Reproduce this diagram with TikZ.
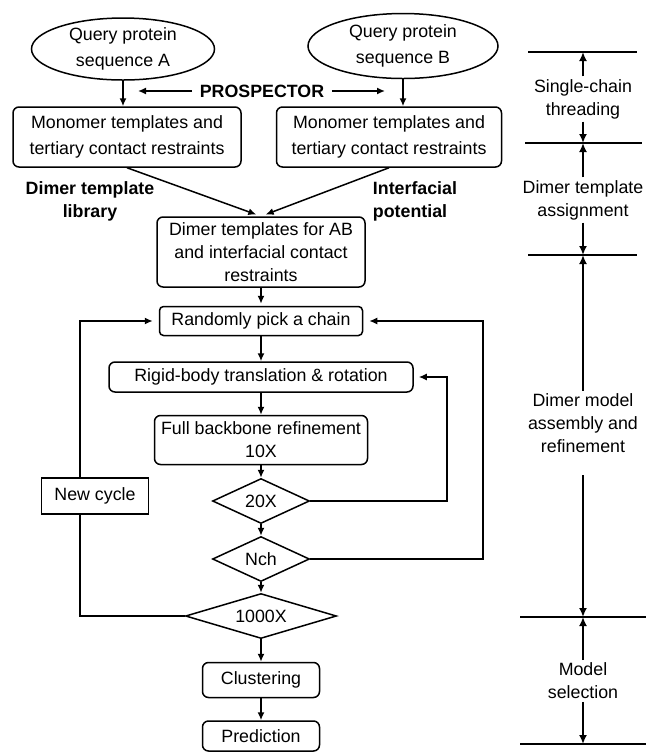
\documentclass[tikz,border=0pt]{standalone}
\usepackage{fontspec}
\setmainfont{Liberation Sans}
\usetikzlibrary{shapes.geometric,arrows.meta}
\newcommand{\txtfont}{\fontsize{8.9}{11.5}\selectfont}

\begin{document}
\begin{tikzpicture}[x=0.5pt,y=-0.5pt,
    font=\txtfont,
    line width=0.75pt,
    >={Latex[length=4pt,width=3.5pt]},
    query/.style={draw, ellipse, align=center, inner sep=0pt},
    stepbox/.style={draw, rounded corners=3pt, align=center, inner sep=1pt},
    choice/.style={draw, diamond, aspect=2.2, inner sep=0pt, minimum width=48.5pt, minimum height=22.5pt},
    stage/.style={align=center, inner sep=1pt},
    span/.style={line width=1pt, -{Latex[length=4.5pt,width=4pt]}}]
    \useasboundingbox (0,0) rectangle (646,752);

    % Query sequences and threading
    \node[query, minimum width=91.5pt, minimum height=31pt] (qA) at (123,49) {Query protein\\[1.5pt]sequence A};
    \node[query, minimum width=95pt, minimum height=32.5pt] (qB) at (403,46) {Query protein\\[1.5pt]sequence B};

    \node[font=\txtfont\bfseries, inner sep=3.5pt] (prosp) at (262,91) {PROSPECTOR};
    \coordinate (pA) at (138,91);
    \coordinate (pB) at (385,91);
    \draw[->] (prosp.west) -- (pA);
    \draw[->] (prosp.east) -- (pB);

    \node[stepbox, minimum width=114pt, minimum height=30pt] (mA) at (127,137) {Monomer templates and\\[1.5pt]tertiary contact restraints};
    \node[stepbox, minimum width=112.5pt, minimum height=30pt] (mB) at (389,137) {Monomer templates and\\[1.5pt]tertiary contact restraints};
    \draw[->] (qA.south) -- (qA.south |- mA.north);
    \draw[->] (qB.south) -- (qB.south |- mB.north);

    % Dimer template assignment
    \node[font=\txtfont\bfseries, align=center] (dlib) at (90,201) {Dimer template\\library};
    \node[font=\txtfont\bfseries, align=left] (ipot) at (415,201) {Interfacial\\potential};

    \node[stepbox, minimum width=104pt, minimum height=35pt] (dimer) at (261,252) {Dimer templates for AB\\and interfacial contact\\restraints};
    \draw[->, shorten >=2.5pt] (mA.south) -- (dimer.north);
    \draw[->, shorten >=2.5pt] (mB.south) -- (dimer.north);

    % Assembly and refinement chain
    \node[stepbox, rounded corners=2pt, minimum width=101.5pt, minimum height=14.5pt] (random) at (261,321) {Randomly pick a chain};
    \node[stepbox, minimum width=152pt, minimum height=15pt] (rigid) at (261,377) {Rigid-body translation \& rotation};
    \node[stepbox, minimum width=106.5pt, minimum height=24.5pt] (backbone) at (261,440) {Full backbone refinement\\10X};
    \node[choice] (d20) at (261,501) {20X};
    \node[choice] (nch) at (261,559) {Nch};
    \node[choice, minimum width=75.5pt] (d1000) at (261,616) {1000X};
    \node[stepbox, minimum width=58.5pt, minimum height=17.5pt] (clust) at (261,680) {Clustering};
    \node[stepbox, minimum width=58.5pt, minimum height=15pt] (pred) at (261,736) {Prediction};

    \draw[->, shorten >=1pt] (dimer) -- (random);
    \draw[->] (random) -- (rigid);
    \draw[->] (rigid) -- (backbone);
    \draw[->] (backbone) -- (d20);
    \draw[->] (d20) -- (nch);
    \draw[->] (nch) -- (d1000);
    \draw[->] (d1000) -- (clust);
    \draw[->] (clust) -- (pred);

    % Loops back
    \coordinate (lx) at (80,0);
    \coordinate (rx) at (483,0);
    \coordinate (sx) at (447,0);
    \draw[->, shorten >=3pt] (d1000.west) -- (d1000.west -| lx) |- (random.west);
    \draw[->, shorten >=3pt] (nch.east) -- (nch.east -| rx) |- (random.east);
    \draw[->, shorten >=2.5pt] (d20.east) -- (d20.east -| sx) |- (rigid.east);
    \node[draw, fill=white, minimum width=53.5pt, minimum height=18pt] (newcyc) at (95,496) {New cycle};

    % Stage scale on the right
    \foreach \y/\a/\b [count=\i] in {52/528/637, 143/525/642, 255/528/637, 617/520/646, 744/520/646} {
        \draw (\a,\y) -- (\b,\y);
        \coordinate (tick\i) at (583,\y);
    }
    \node[stage] (sc) at (583,99) {Single-chain\\threading};
    \node[stage] (dta) at (583,200) {Dimer template\\assignment};
    \node[stage] (dma) at (583,423) {Dimer model\\assembly and\\refinement};
    \node[stage] (ms) at (583,681) {Model\\selection};

    \draw[span] (sc.north) -- (tick1);
    \draw[span] (sc.south) -- (tick2);
    \draw[span] (dta.north) -- (tick2);
    \draw[span] (dta.south) -- (tick3);
    \draw[span] (dma.north) -- (tick3);
    \draw[span] ([yshift=-10pt]dma.south) -- (tick4);
    \draw[span] (ms.north) -- (tick4);
    \draw[span] (ms.south) -- (tick5);
\end{tikzpicture}
\end{document}
